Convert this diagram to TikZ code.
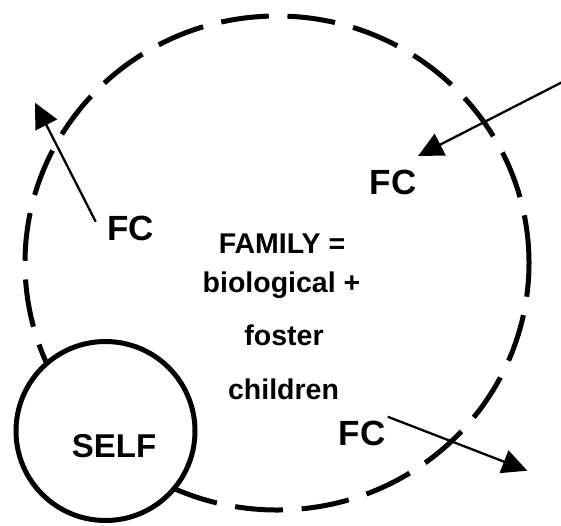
\documentclass[tikz,border=0pt]{standalone}
\usepackage{fontspec}
\setmainfont{Liberation Sans}
\usetikzlibrary{arrows.meta,shapes.geometric,calc}
\begin{document}
\begin{tikzpicture}[x=1pt,y=-1pt,
  ring/.style={ellipse, draw, line width=5pt, minimum width=504pt, minimum height=494pt,
    inner sep=0pt, outer sep=0pt, dash pattern=on 48pt off 18.7pt},
  selfring/.style={circle, draw, fill=white, line width=5pt, minimum size=179pt, inner sep=0pt},
  lab/.style={font=\bfseries\fontsize{35}{42}\selectfont, inner sep=0pt, anchor=base},
  selftext/.style={font=\bfseries\fontsize{33}{40}\selectfont, inner sep=0pt, anchor=base},
  body/.style={font=\bfseries\fontsize{28.5}{34}\selectfont, inner sep=0pt, anchor=base},
  flow/.style={line width=2.3pt, -{Triangle[length=25pt,width=24pt]}}
]
\useasboundingbox (0,0) rectangle (561,525);

% the family: a dashed ring, with the self circle sitting on its rim
\node[ring] (family) at (277,263) {};
\node[selfring] (self) at (105.5,431) {};
\node[selftext] (selflabel) at (114,457) {SELF};

% caption in the middle of the ring
\node[body] (fam1) at (282,253) {FAMILY =};
\node[body] (fam2) at (281.5,292.5) {biological +};
\node[body] (fam3) at (284,345.5) {foster};
\node[body] (fam4) at (283.5,399) {children};

% foster children coming and going
\node[lab] (fcL) at (130.5,240) {FC};
\node[lab] (fcR) at (393,194) {FC};
\node[lab] (fcB) at (362,445) {FC};

\coordinate (out1) at (35,102.7);
\coordinate (in1) at (570,78.1);
\coordinate (out2) at (527.3,470.7);

\draw[flow] ($(fcL.base)+(-34.8,-18.3)$) -- (out1);
\draw[flow] (in1) -- ($(fcR.base)+(25,-38)$);
\draw[flow] ($(fcB.base)+(25.7,-28.3)$) -- (out2);
\end{tikzpicture}
\end{document}
